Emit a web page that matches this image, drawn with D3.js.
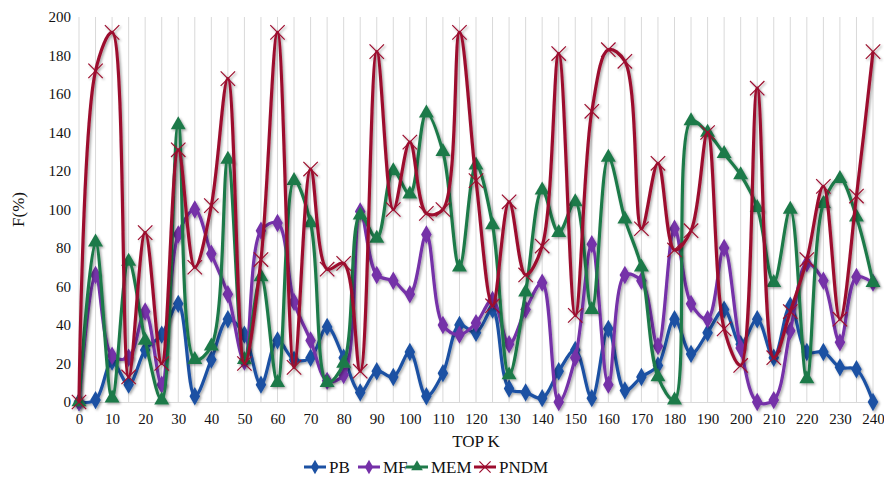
<!DOCTYPE html>
<html>
<head>
<meta charset="utf-8">
<script src="https://cdn.jsdelivr.net/npm/d3@7"></script>
<style>
  body { margin: 0; background: #fff; }
  text { font-family: "Liberation Serif", "Times New Roman", serif; fill: #111; }
</style>
</head>
<body>
<script>
// TOP K categories, 0..240 step 5
var topK = [0, 5, 10, 15, 20, 25, 30, 35, 40, 45, 50, 55, 60, 65, 70, 75, 80, 85, 90, 95,
    100, 105, 110, 115, 120, 125, 130, 135, 140, 145, 150, 155, 160, 165, 170, 175, 180, 185, 190, 195,
    200, 205, 210, 215, 220, 225, 230, 235, 240];
var xTickLabels = [0, 10, 20, 30, 40, 50, 60, 70, 80, 90, 100, 110, 120, 130, 140, 150, 160, 170, 180, 190,
    200, 210, 220, 230, 240];
var yTickLabels = [0, 20, 40, 60, 80, 100, 120, 140, 160, 180, 200];

var pb = [0, 1, 21, 9, 27, 35, 51, 3, 22, 43, 35, 9, 32, 22, 23, 39, 23, 5, 16, 13,
    26, 3, 15, 40, 36, 48, 7, 5, 2, 16, 27, 2, 38, 6, 13, 19, 43, 25, 36, 48,
    30, 43, 23, 50, 26, 26, 18, 17, 0];
var mf = [0, 66, 24, 23, 47, 9, 87, 100, 77, 56, 21, 89, 93, 52, 32, 11, 14, 99, 66, 63,
    56, 87, 40, 35, 41, 53, 30, 48, 62, 0, 23, 82, 9, 66, 63, 29, 90, 51, 43, 80,
    28, 0, 1, 37, 72, 63, 31, 65, 62];
var mem = [0, 83, 2, 73, 32, 1, 144, 22, 29, 126, 22, 65, 10, 115, 93, 10, 20, 97, 85, 120,
    108, 150, 130, 70, 123, 92, 14, 57, 110, 88, 104, 48, 127, 95, 70, 13, 1, 146, 140, 129,
    118, 101, 62, 100, 12, 103, 116, 96, 62];
var pndm = [0, 172, 192, 13, 88, 20, 131, 70, 102, 168, 20, 74, 192, 18, 121, 69, 72, 16, 182, 100,
    135, 98, 100, 192, 115, 50, 104, 66, 81, 181, 45, 151, 183, 177, 90, 124, 79, 89, 140, 38,
    19, 163, 23, 47, 74, 112, 43, 107, 182];

var seriesNames = ["PB", "MF", "MEM", "PNDM"];
var seriesColors = ["#1c51a3", "#7530a8", "#1f7a4a", "#9c0c2e"];
var seriesShapes = ["diamond", "diamond", "triangle", "cross"];
var seriesValues = [pb, mf, mem, pndm];

var width = 884, height = 487;
var margin = { top: 17, right: 11, bottom: 85, left: 79 };
var innerW = width - margin.left - margin.right,
    innerH = height - margin.top - margin.bottom;

var svg = d3.select("body").append("svg")
    .attr("width", width)
    .attr("height", height);

// soft drop shadow like the original
var defs = svg.append("defs");
var filt = defs.append("filter").attr("id", "shadow")
    .attr("x", "-10%").attr("y", "-10%").attr("width", "120%").attr("height", "120%");
filt.append("feDropShadow")
    .attr("dx", 1.5).attr("dy", 1.5).attr("stdDeviation", 1.2)
    .attr("flood-color", "#000").attr("flood-opacity", 0.35);

var g = svg.append("g")
    .attr("transform", "translate(" + margin.left + "," + margin.top + ")");

var x = d3.scaleLinear().domain([0, 240]).range([0, innerW]);
var y = d3.scaleLinear().domain([0, 200]).range([innerH, 0]);

// vertical gridlines every 5
g.append("g")
    .selectAll("line")
    .data(topK)
    .enter().append("line")
    .attr("x1", function(d) { return x(d); })
    .attr("x2", function(d) { return x(d); })
    .attr("y1", 0)
    .attr("y2", innerH)
    .attr("stroke", "#d9d9d9")
    .attr("stroke-width", 1);

// x axis
var xAxis = g.append("g")
    .attr("transform", "translate(0," + innerH + ")")
    .call(d3.axisBottom(x).tickValues(xTickLabels).tickSize(0).tickPadding(11));
xAxis.select(".domain").attr("stroke", "#d9d9d9");
xAxis.selectAll("text").style("font-size", "15px");

// y axis
var yAxis = g.append("g")
    .call(d3.axisLeft(y).tickValues(yTickLabels).tickSize(0).tickPadding(8));
yAxis.select(".domain").remove();
yAxis.selectAll("text").style("font-size", "15px");

// axis titles
svg.append("text")
    .attr("x", margin.left + innerW / 2)
    .attr("y", 447)
    .attr("text-anchor", "middle")
    .style("font-size", "17px")
    .text("TOP K");

svg.append("text")
    .attr("transform", "translate(24," + (margin.top + innerH / 2) + ") rotate(-90)")
    .attr("text-anchor", "middle")
    .style("font-size", "17px")
    .text("F(%)");

var line = d3.line()
    .x(function(d, i) { return x(topK[i]); })
    .y(function(d) { return y(d); })
    .curve(d3.curveCatmullRom.alpha(0.5));

function drawMarker(sel, shape, color, size) {
    if (shape === "cross") {
        var s = size * 0.8;
        sel.append("path")
            .attr("d", "M" + (-s) + "," + (-s) + "L" + s + "," + s + "M" + (-s) + "," + s + "L" + s + "," + (-s))
            .attr("stroke", color)
            .attr("stroke-width", 1.2)
            .attr("fill", "none");
    } else {
        var sym = shape === "diamond" ? d3.symbolDiamond : d3.symbolTriangle;
        sel.append("path")
            .attr("d", d3.symbol().type(sym).size(size * size * 1.2))
            .attr("fill", color);
    }
}

seriesValues.forEach(function(vals, si) {
    var sg = g.append("g").attr("filter", "url(#shadow)");
    sg.append("path")
        .datum(vals)
        .attr("fill", "none")
        .attr("stroke", seriesColors[si])
        .attr("stroke-width", 3.2)
        .attr("stroke-linejoin", "round")
        .attr("d", line);

    sg.selectAll("g.mk")
        .data(vals)
        .enter().append("g")
        .attr("class", "mk")
        .attr("transform", function(d, i) { return "translate(" + x(topK[i]) + "," + y(d) + ")"; })
        .each(function() {
            drawMarker(d3.select(this), seriesShapes[si], seriesColors[si], 9);
        });
});

// legend
var legendX = [304, 358, 406, 474];
var legend = svg.append("g").attr("transform", "translate(0,467)");
seriesNames.forEach(function(name, i) {
    var lg = legend.append("g").attr("transform", "translate(" + legendX[i] + ",0)");
    lg.append("line")
        .attr("x1", 0).attr("x2", 22)
        .attr("stroke", seriesColors[i])
        .attr("stroke-width", 3);
    var mk = lg.append("g").attr("transform", "translate(11,0)");
    drawMarker(mk, seriesShapes[i], seriesColors[i], 7);
    lg.append("text")
        .attr("x", 25)
        .attr("y", 6)
        .style("font-size", "17px")
        .text(name);
});
</script>
</body>
</html>
